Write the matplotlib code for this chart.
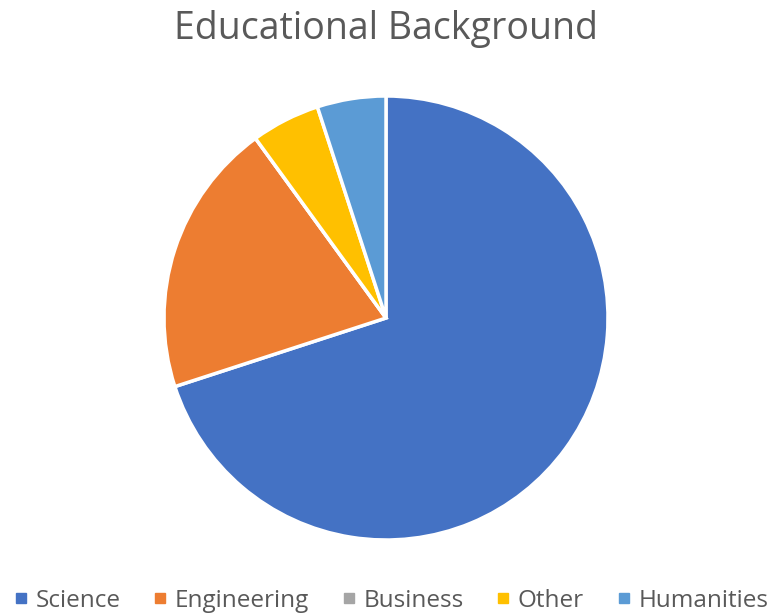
import matplotlib
matplotlib.use("Agg")
import matplotlib.pyplot as plt
from matplotlib.lines import Line2D

categories = ["Science", "Engineering", "Business", "Other", "Humanities"]
shares = [70, 20, 0, 5, 5]
colors = ["#4472C4", "#ED7D31", "#A5A5A5", "#FFC000", "#5B9BD5"]

plt.rcParams["font.family"] = ["Open Sans", "DejaVu Sans"]

W, H = 773, 616
fig = plt.figure(figsize=(W / 100, H / 100), dpi=100)

cx, cy, r = 386, 318, 222
ax = fig.add_axes([(cx - r) / W, (H - cy - r) / H, 2 * r / W, 2 * r / H])
ax.pie(shares, colors=colors, startangle=90, counterclock=False,
       wedgeprops=dict(edgecolor="white", linewidth=2.5))
ax.set_aspect("equal")
ax.set_xlim(-1, 1)
ax.set_ylim(-1, 1)

fig.text(0.5, 1 - 29 / H, "Educational Background", ha="center", va="center",
         fontsize=27, color="#595959")

handles = [Line2D([0], [0], marker="s", linestyle="none", markersize=7.5,
                  markerfacecolor=c, markeredgecolor=c) for c in colors]
fig.legend(handles, categories, loc="center", bbox_to_anchor=(391 / W, 1 - 601 / H),
           ncol=5, frameon=False, fontsize=17.5, handletextpad=0.3,
           columnspacing=1.33, labelcolor="#595959", handlelength=0.6,
           borderaxespad=0, borderpad=0)

fig.savefig("out.png", dpi=100)
